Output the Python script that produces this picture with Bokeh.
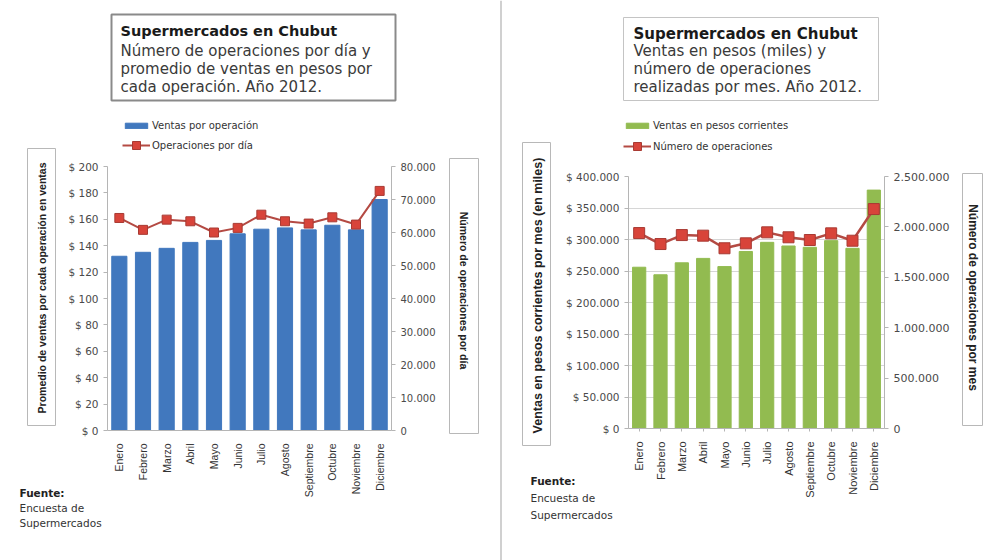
from math import pi

from bokeh.embed import file_html
from bokeh.models import (FactorRange, FixedTicker, GridBox, Label, Legend,
                          LegendItem, LinearAxis, Range1d, Row)
from bokeh.plotting import figure
from bokeh.resources import INLINE

# ---------------------------------------------------------------- data
meses = ["Enero", "Febrero", "Marzo", "Abril", "Mayo", "Junio", "Julio",
         "Agosto", "Septiembre", "Octubre", "Noviembre", "Diciembre"]

# Left chart: average sale per operation ($) and operations per day
ventas_por_operacion = [132, 135, 138, 142.5, 144, 149, 152.5, 153.5, 152,
                        155.5, 152, 175]
operaciones_por_dia = [64400, 60800, 63900, 63400, 60000, 61400, 65400,
                       63400, 62700, 64600, 62400, 72600]

# Right chart: monthly sales (thousands of $) and operations per month
ventas_mensuales = [256000, 244000, 263000, 270000, 257000, 281000, 295500,
                    289700, 287600, 298200, 286000, 378400]
operaciones_mensuales = [1939000, 1830000, 1919000, 1913000, 1788000,
                         1837000, 1946000, 1897000, 1870000, 1936000,
                         1863000, 2177000]

ticks_ventas_op = [0, 20, 40, 60, 80, 100, 120, 140, 160, 180, 200]
ticks_ops_dia = [0, 10000, 20000, 30000, 40000, 50000, 60000, 70000, 80000]
ticks_ventas_mes = [0, 50000, 100000, 150000, 200000, 250000, 300000,
                    350000, 400000]
ticks_ops_mes = [0, 500000, 1000000, 1500000, 2000000, 2500000]


def puntos(v):
    """Spanish thousands separator."""
    return f"{v:,}".replace(",", ".")


TITLE_FONT = "DejaVu Sans"
TICK_FONT = "DejaVu Sans"
MONTH_FONT = "Liberation Sans"
AXIS_TITLE_FONT = "Liberation Sans"

BLUE = "#4178be"
GREEN = "#92bb50"
LINE_RED = "#b44a43"
MARK_RED = "#d8443a"
MARK_EDGE = "#a83a33"
NAN = float("nan")


def base_figure(width, left, right, top, bottom, y_end, extra_end):
    p = figure(width=width, height=560, x_range=FactorRange(factors=meses),
               y_range=Range1d(0, y_end), output_backend="svg",
               toolbar_location=None, min_border_left=left,
               min_border_right=right, min_border_top=top,
               min_border_bottom=bottom)
    p.extra_y_ranges = {"ops": Range1d(0, extra_end)}
    p.outline_line_color = None
    p.background_fill_color = "white"
    p.border_fill_color = "white"
    p.xgrid.grid_line_color = None
    return p


def style_axis(ax, size="10px", font=TICK_FONT):
    ax.axis_line_color = "#b5b5b5"
    ax.major_tick_line_color = "#b5b5b5"
    ax.minor_tick_line_color = None
    ax.major_tick_in = 0
    ax.major_tick_out = 4
    ax.major_label_standoff = 5
    ax.major_label_text_font = font
    ax.major_label_text_font_size = size
    ax.major_label_text_color = "#4a4a4a"


def month_axis(ax, size, standoff, tick_out):
    style_axis(ax, size=size, font=MONTH_FONT)
    ax.major_tick_out = tick_out
    ax.major_label_orientation = pi / 2
    ax.major_label_standoff = standoff
    ax.major_label_text_color = "#333333"


# ============================================================ left chart
p1 = base_figure(500, 107, 109, 166, 130, 200, 80000)
p1.ygrid.grid_line_color = None

p1.vbar(x=meses, top=ventas_por_operacion, width=0.64,
        fill_color=BLUE, line_color=BLUE)
p1.line(x=meses, y=operaciones_por_dia, y_range_name="ops",
        line_color=LINE_RED, line_width=2)
p1.scatter(x=meses, y=operaciones_por_dia, y_range_name="ops",
           marker="square", size=9, fill_color=MARK_RED, line_color=MARK_EDGE)

ax_l = p1.yaxis[0]
ax_l.ticker = FixedTicker(ticks=ticks_ventas_op)
ax_l.major_label_overrides = {t: f"$ {t}" for t in ticks_ventas_op}
style_axis(ax_l, size="10.5px")

ax_r = LinearAxis(y_range_name="ops", ticker=FixedTicker(ticks=ticks_ops_dia),
                  major_label_overrides={t: puntos(t) for t in ticks_ops_dia})
style_axis(ax_r)
p1.add_layout(ax_r, "right")

month_axis(p1.xaxis[0], "10.5px", 13, 0)

# =========================================================== right chart
p2 = base_figure(500, 128, 116, 176, 132, 400000, 2500000)
p2.ygrid.grid_line_color = "#d6d6d6"
p2.ygrid.ticker = FixedTicker(ticks=ticks_ventas_mes)

p2.vbar(x=meses, top=ventas_mensuales, width=0.62,
        fill_color=GREEN, line_color=GREEN)
p2.line(x=meses, y=operaciones_mensuales, y_range_name="ops",
        line_color=LINE_RED, line_width=2.5)
p2.scatter(x=meses, y=operaciones_mensuales, y_range_name="ops",
           marker="square", size=11, fill_color=MARK_RED, line_color=MARK_EDGE)

ay_l = p2.yaxis[0]
ay_l.ticker = FixedTicker(ticks=ticks_ventas_mes)
ay_l.major_label_overrides = {t: f"$ {puntos(t)}" for t in ticks_ventas_mes}
style_axis(ay_l, size="10.5px")

ay_r = LinearAxis(y_range_name="ops", ticker=FixedTicker(ticks=ticks_ops_mes),
                  major_label_overrides={t: puntos(t) for t in ticks_ops_mes})
style_axis(ay_r, size="11px")
p2.add_layout(ay_r, "right")

month_axis(p2.xaxis[0], "11px", 10, 3)

# ============================================ page layer: boxes and texts
# A transparent figure laid over both charts; its ranges are page pixels
# (y grows downward) so the framed titles, legends and notes sit freely.
ov = figure(width=1000, height=560, x_range=Range1d(0, 1000),
            y_range=Range1d(560, 0), x_axis_type=None, y_axis_type=None,
            output_backend="svg", toolbar_location=None, title=None,
            min_border=0)
ov.grid.visible = False
ov.outline_line_color = None
ov.background_fill_color = None
ov.border_fill_color = None

# divider between the two charts
ov.segment(x0=[500.5], y0=[0], x1=[500.5], y1=[560], line_color="#d0d0d0",
           line_width=2)


def frame_box(l, t, r, b, color="#b8b8b8", width=1):
    ov.quad(left=[l], right=[r], top=[t], bottom=[b], fill_alpha=0,
            line_color=color, line_width=width)


def text(x, y, txt, size="10px", font=TITLE_FONT, style="normal",
         color="#333333", align="left", baseline="middle", angle=0,
         line_height=1.2):
    ov.add_layout(Label(x=x, y=y, text=txt, text_font=font,
                        text_font_size=size, text_font_style=style,
                        text_color=color, text_align=align,
                        text_baseline=baseline, angle=angle,
                        text_line_height=line_height))


def legend_row(x, center, label, renderers, glyph_height):
    row_h = max(14, glyph_height)
    ov.add_layout(Legend(
        items=[LegendItem(label=label, renderers=renderers)],
        location=(x, 560 - (center + row_h / 2)), orientation="vertical",
        background_fill_alpha=0, border_line_color=None, padding=0,
        margin=0, spacing=0, glyph_width=28, glyph_height=glyph_height,
        label_height=14, label_standoff=2, label_text_font=TITLE_FONT,
        label_text_font_size="10px", label_text_color="#333333"))


def legend(x, centers, bar_color, bar_label, line_label):
    # legend swatches styled like the chart's own bar, line and marker
    # glyphs; their single NaN point never shows on the page itself
    sw_bar = ov.vbar(x=[NAN], top=[NAN], width=1, fill_color=bar_color,
                     line_color=bar_color)
    sw_line = ov.line(x=[NAN], y=[NAN], line_color=LINE_RED, line_width=2)
    sw_pt = ov.scatter(x=[NAN], y=[NAN], marker="square", size=8,
                       fill_color=MARK_RED, line_color=MARK_EDGE)
    legend_row(x, centers[0], bar_label, [sw_bar], 7)
    legend_row(x, centers[1], line_label, [sw_line, sw_pt], 20)


# --- left panel
frame_box(111, 14, 395, 100, color="#8a8a8a", width=2)
text(120, 30, "Supermercados en Chubut", size="14.5px", style="bold",
     color="#1a1a1a")
text(120, 41, "Número de operaciones por día y\n"
     "promedio de ventas en pesos por\ncada operación. Año 2012.",
     size="15px", color="#3a3a3a", baseline="top", line_height=1.02)
legend(122, (125, 145), BLUE, "Ventas por operación", "Operaciones por día")

frame_box(27, 148, 55, 425)
text(41, 286, "Promedio de ventas  por cada operación en ventas",
     size="10.5px", font=AXIS_TITLE_FONT, style="bold", color="#222222",
     align="center", angle=pi / 2)
frame_box(449, 158, 478, 433)
text(463, 290, "Número de operaciones por día", size="10.5px",
     font=AXIS_TITLE_FONT, style="bold", color="#222222", align="center",
     angle=-pi / 2)
text(19, 492, "Fuente:", size="10.5px", style="bold", color="#222222")
text(19, 507, "Encuesta de", size="10.5px", color="#333333")
text(19, 522, "Supermercados", size="10.5px", color="#333333")

# --- right panel
frame_box(623, 17, 878, 100, color="#c4c4c4", width=1)
text(633, 33, "Supermercados en Chubut", size="15px", style="bold",
     color="#1a1a1a")
text(633, 41, "Ventas en pesos (miles) y\nnúmero de operaciones\n"
     "realizadas por mes. Año 2012.", size="15px", color="#3a3a3a",
     baseline="top", line_height=1.0)
legend(623, (125, 146), GREEN, "Ventas en pesos corrientes",
       "Número de operaciones")

frame_box(522, 142, 550, 445)
text(537, 295, "Ventas en pesos corrientes por mes (en miles)",
     size="12.5px", font=AXIS_TITLE_FONT, style="bold", color="#222222",
     align="center", angle=pi / 2)
frame_box(962, 173, 982, 425)
text(972, 297, "Número de operaciones por mes", size="12px",
     font=AXIS_TITLE_FONT, style="bold", color="#222222", align="center",
     angle=-pi / 2)
text(530, 480, "Fuente:", size="10.5px", style="bold", color="#222222")
text(530, 497, "Encuesta de", size="10.5px", color="#333333")
text(530, 514, "Supermercados", size="10.5px", color="#333333")

# each figure sits in its own row box so the grid keeps their frames apart;
# the page layer shares the grid cells of both charts and is drawn on top
layout = GridBox(children=[(Row(children=[p1]), 0, 0),
                           (Row(children=[p2]), 0, 1),
                           (Row(children=[ov]), 0, 0, 1, 2)],
                 spacing=0)
open("out.html", "w").write(file_html(layout, INLINE))
